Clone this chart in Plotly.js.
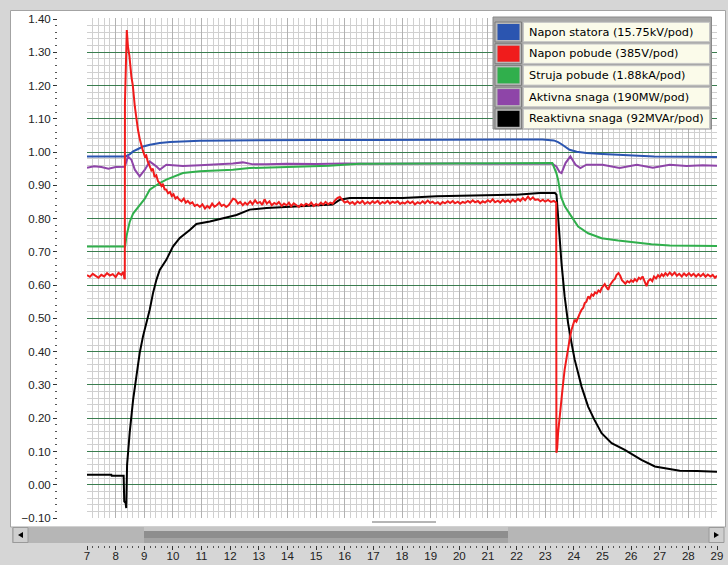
<!DOCTYPE html>
<html>
<head>
<meta charset="utf-8">
<script src="https://cdn.plot.ly/plotly-3.0.1.min.js"></script>
<style>
html,body{margin:0;padding:0;background:#d6d6d6;}
#chart{width:728px;height:565px;}
</style>
</head>
<body>
<div id="chart"></div>
<script>
// ---------------- DATA ----------------
const seriesNames = [
  "Napon statora (15.75kV/pod)",
  "Napon pobude (385V/pod)",
  "Struja pobude (1.88kA/pod)",
  "Aktivna snaga (190MW/pod)",
  "Reaktivna snaga (92MVAr/pod)"
];

// Napon statora (blue)
const tStator = [7, 8.35, 8.5, 8.61, 8.8, 8.96, 9.2, 9.54, 9.9, 10.24, 10.94, 12, 13, 15, 17, 19, 21, 22, 22.9, 23.3, 23.45, 23.6, 23.85, 24.1, 24.44, 25, 25.6, 26.2, 26.8, 28, 29];
const vStator = [0.987, 0.987, 0.994, 1.002, 1.010, 1.017, 1.022, 1.027, 1.030, 1.032, 1.034, 1.035, 1.036, 1.036, 1.036, 1.036, 1.036, 1.037, 1.038, 1.035, 1.030, 1.022, 1.007, 1.001, 0.997, 0.994, 0.992, 0.989, 0.987, 0.986, 0.985];

// Napon pobude (red)
const tPobude = [7.0, 7.1, 7.2, 7.3, 7.4, 7.5, 7.6, 7.7, 7.8, 7.9, 8.0, 8.1, 8.2, 8.27, 8.31,
  8.32, 8.325, 8.39, 8.43, 8.48, 8.55, 8.60, 8.67, 8.72, 8.78, 8.84, 8.90, 8.95, 9.02, 9.07, 9.12, 9.19, 9.25, 9.30, 9.36, 9.42, 9.48, 9.54, 9.60, 9.65, 9.71, 9.77, 9.83, 9.90, 9.96, 10.02, 10.09, 10.15, 10.22, 10.30, 10.38, 10.45, 10.52, 10.60, 10.68, 10.76, 10.85, 10.94,
  11.03, 11.12, 11.20, 11.28, 11.37, 11.45, 11.53, 11.62, 11.70, 11.78, 11.86, 11.95, 12.03, 12.10, 12.18, 12.27, 12.35, 12.44, 12.52, 12.60, 12.70, 12.78, 12.87, 12.95,
  13.04, 13.12, 13.20, 13.28, 13.37, 13.45, 13.54, 13.62, 13.70, 13.80, 13.88, 13.97, 14.05, 14.13, 14.22, 14.30, 14.40, 14.48, 14.57, 14.65, 14.75, 14.83, 14.92,
  15.00, 15.08, 15.17, 15.25, 15.33, 15.42, 15.50, 15.58, 15.66, 15.75, 15.83, 15.92, 16.00, 16.10, 16.18, 16.27, 16.35, 16.45, 16.53, 16.62, 16.70, 16.80, 16.88, 16.97,
  17.05, 17.15, 17.23, 17.32, 17.40, 17.50, 17.58, 17.67, 17.75, 17.85, 17.93, 18.02, 18.10, 18.20, 18.28, 18.37, 18.45, 18.55, 18.63, 18.72, 18.80, 18.90, 18.98,
  19.07, 19.15, 19.25, 19.33, 19.42, 19.50, 19.60, 19.68, 19.77, 19.85, 19.95, 20.03, 20.12, 20.20, 20.30, 20.38, 20.47, 20.55, 20.65, 20.73, 20.82, 20.90,
  21.00, 21.08, 21.17, 21.25, 21.35, 21.43, 21.52, 21.60, 21.70, 21.78, 21.87, 21.95, 22.05, 22.13, 22.22, 22.30, 22.40, 22.48, 22.57, 22.65, 22.75, 22.83, 22.92,
  23.00, 23.10, 23.20, 23.30, 23.385, 23.392, 23.42, 23.45, 23.50, 23.57, 23.62, 23.68, 23.74, 23.80, 23.86, 23.92, 23.97, 24.03, 24.09, 24.15, 24.21, 24.27, 24.33, 24.38, 24.44, 24.50, 24.56, 24.62, 24.68, 24.74, 24.80, 24.86, 24.92, 24.97,
  25.03, 25.08, 25.14, 25.20, 25.26, 25.32, 25.38, 25.43, 25.49, 25.56, 25.62, 25.68, 25.74, 25.80, 25.87, 25.94, 26.00, 26.07, 26.13, 26.20, 26.27, 26.33, 26.40, 26.47, 26.54, 26.60, 26.67, 26.74, 26.80, 26.87, 26.94,
  27.00, 27.07, 27.13, 27.20, 27.27, 27.35, 27.43, 27.52, 27.60, 27.68, 27.77, 27.85, 27.93, 28.02, 28.10, 28.18, 28.27, 28.35, 28.43, 28.52, 28.60, 28.68, 28.77, 28.85, 28.93, 29.0];
const vPobude = [0.630, 0.625, 0.634, 0.628, 0.622, 0.631, 0.626, 0.636, 0.629, 0.633, 0.624, 0.637, 0.631, 0.640, 0.618,
  0.620, 1.150, 1.367, 1.317, 1.290, 1.227, 1.200, 1.137, 1.100, 1.067, 1.040, 1.017, 1.005, 0.987, 0.990, 0.972, 0.957, 0.945, 0.950, 0.925, 0.930, 0.912, 0.907, 0.898, 0.905, 0.888, 0.887, 0.876, 0.880, 0.868, 0.873, 0.860, 0.865, 0.857, 0.852, 0.860, 0.848, 0.853, 0.845, 0.849, 0.838, 0.842, 0.835,
  0.843, 0.830, 0.838, 0.832, 0.845, 0.836, 0.840, 0.848, 0.838, 0.842, 0.835, 0.841, 0.852, 0.860, 0.857, 0.845, 0.850, 0.840, 0.848, 0.842, 0.852, 0.843, 0.855, 0.846,
  0.850, 0.841, 0.858, 0.845, 0.852, 0.840, 0.847, 0.843, 0.850, 0.838, 0.845, 0.840, 0.848, 0.837, 0.846, 0.840, 0.835, 0.843, 0.838, 0.845, 0.840, 0.848, 0.838,
  0.844, 0.840, 0.848, 0.842, 0.850, 0.843, 0.848, 0.845, 0.855, 0.862, 0.865, 0.855, 0.848, 0.852, 0.845, 0.850, 0.843, 0.851, 0.846, 0.853, 0.844, 0.850, 0.845, 0.852,
  0.847, 0.853, 0.844, 0.850, 0.846, 0.853, 0.845, 0.851, 0.847, 0.852, 0.844, 0.849, 0.845, 0.852, 0.846, 0.851, 0.843, 0.849, 0.845, 0.852, 0.846, 0.854, 0.847,
  0.851, 0.845, 0.849, 0.843, 0.850, 0.846, 0.852, 0.847, 0.853, 0.846, 0.851, 0.845, 0.850, 0.847, 0.853, 0.848, 0.855, 0.849, 0.853, 0.846, 0.852, 0.848,
  0.855, 0.850, 0.858, 0.849, 0.854, 0.848, 0.856, 0.850, 0.855, 0.849, 0.857, 0.851, 0.859, 0.853, 0.862, 0.855, 0.866, 0.857, 0.864, 0.856, 0.858, 0.852, 0.857,
  0.851, 0.856, 0.850, 0.853, 0.848, 0.096, 0.110, 0.155, 0.205, 0.265, 0.300, 0.346, 0.380, 0.416, 0.440, 0.466, 0.478, 0.496, 0.490, 0.506, 0.515, 0.526, 0.532, 0.546, 0.550, 0.566, 0.560, 0.572, 0.568, 0.578, 0.575, 0.584, 0.580, 0.591,
  0.596, 0.603, 0.594, 0.586, 0.600, 0.608, 0.615, 0.618, 0.630, 0.636, 0.628, 0.615, 0.610, 0.604, 0.612, 0.608, 0.615, 0.610, 0.618, 0.612, 0.622, 0.618, 0.626, 0.610, 0.597, 0.612, 0.618, 0.612, 0.626, 0.620, 0.630,
  0.624, 0.633, 0.627, 0.636, 0.629, 0.638, 0.630, 0.638, 0.628, 0.634, 0.626, 0.635, 0.628, 0.636, 0.628, 0.634, 0.626, 0.633, 0.627, 0.634, 0.625, 0.632, 0.626, 0.631, 0.622, 0.628];

// Struja pobude (green)
const tStruja = [7, 8.33, 8.376, 8.49, 8.61, 8.84, 9.02, 9.19, 9.54, 9.77, 10.35, 10.94, 12.09, 12.68, 13.7, 15.45, 16.5, 17.2, 20, 23.25, 23.39, 23.45, 23.55, 23.69, 23.92, 24.15, 24.5, 24.97, 25.55, 26.13, 26.71, 27.35, 28.2, 29];
const vStruja = [0.716, 0.716, 0.746, 0.790, 0.815, 0.840, 0.860, 0.887, 0.907, 0.917, 0.937, 0.942, 0.947, 0.952, 0.955, 0.959, 0.965, 0.965, 0.966, 0.967, 0.937, 0.917, 0.866, 0.836, 0.806, 0.776, 0.756, 0.741, 0.734, 0.728, 0.723, 0.719, 0.718, 0.718];

// Aktivna snaga (purple)
const tAktivna = [7, 7.25, 7.5, 7.75, 8.0, 8.2, 8.32, 8.43, 8.55, 8.67, 8.84, 9.02, 9.19, 9.42, 9.54, 9.77, 10.35, 10.94, 11.5, 12.09, 12.44, 12.8, 13.27, 14.0, 15.0, 16.0, 17.0, 18.0, 19.0, 20.0, 21.0, 22.0, 23.0, 23.25,
  23.39, 23.5, 23.57, 23.71, 23.88, 24.06, 24.23, 24.44, 25.0, 25.6, 26.2, 26.76, 27.35, 27.94, 28.5, 29];
const vAktivna = [0.953, 0.957, 0.955, 0.950, 0.955, 0.957, 0.956, 0.987, 0.977, 0.947, 0.927, 0.947, 0.972, 0.957, 0.947, 0.962, 0.958, 0.960, 0.962, 0.966, 0.969, 0.963, 0.963, 0.965, 0.964, 0.966, 0.965, 0.966, 0.965, 0.966, 0.965, 0.966, 0.966, 0.965,
  0.957, 0.940, 0.937, 0.967, 0.987, 0.962, 0.952, 0.962, 0.962, 0.952, 0.962, 0.953, 0.962, 0.958, 0.960, 0.959];

// Reaktivna snaga (black)
const tReaktivna = [7, 7.85, 7.86, 8.28, 8.30, 8.35, 8.37, 8.40, 8.49, 8.61, 8.725, 8.84, 8.956, 9.075, 9.19, 9.305, 9.424, 9.54, 9.77, 10.0, 10.24, 10.59, 10.82, 11.29, 11.74, 11.98, 12.22, 12.68, 13.27, 14.43, 15.58, 15.83, 16.18, 17.22, 18.03, 19.2, 20.95, 22.0, 22.81, 23.34,
  23.395, 23.45, 23.57, 23.68, 23.8, 23.92, 24.03, 24.15, 24.27, 24.5, 24.72, 24.97, 25.32, 25.78, 26.36, 26.83, 27.7, 28.3, 29];
const vReaktivna = [0.030, 0.030, 0.027, 0.027, -0.050, -0.055, -0.070, 0.060, 0.156, 0.255, 0.326, 0.396, 0.446, 0.487, 0.526, 0.576, 0.616, 0.646, 0.676, 0.716, 0.742, 0.766, 0.784, 0.791, 0.800, 0.805, 0.811, 0.827, 0.832, 0.837, 0.842, 0.857, 0.862, 0.862, 0.862, 0.867, 0.869, 0.872, 0.877, 0.877,
  0.872, 0.797, 0.666, 0.566, 0.486, 0.426, 0.376, 0.336, 0.295, 0.235, 0.195, 0.155, 0.125, 0.105, 0.075, 0.055, 0.042, 0.041, 0.039];

// ---------------- STYLE / LAYOUT ----------------
const colors = ["#2b55b0", "#f01c1c", "#30af4c", "#8e45a8", "#000000"];
const W = 728, H = 565, ML = 57, MR = 11, MT = 18, MB = 20;
const PW = W - ML - MR, PH = H - MT - MB;
const px = v => (v - ML) / PW;
const py = v => (H - MB - v) / PH;

const series = [
  {t: tStator, v: vStator, c: 0},
  {t: tAktivna, v: vAktivna, c: 3},
  {t: tStruja, v: vStruja, c: 2},
  {t: tReaktivna, v: vReaktivna, c: 4},
  {t: tPobude, v: vPobude, c: 1}
];
const traces = series.map(s => ({
  type: "scatter", mode: "lines", x: s.t, y: s.v,
  line: {color: colors[s.c], width: 2}, hoverinfo: "skip", showlegend: false
}));

const shapes = [];
const annotations = [];
// white panel
shapes.push({type: "rect", xref: "paper", yref: "paper", layer: "below",
  x0: px(10.5), x1: px(725.5), y0: py(527), y1: py(10.5),
  fillcolor: "#ffffff", line: {color: "#a3a3a3", width: 1}});
// scrollbar track
shapes.push({type: "rect", xref: "paper", yref: "paper", layer: "above",
  x0: px(12), x1: px(724), y0: py(543), y1: py(527),
  fillcolor: "#b6b6b6", line: {width: 0}});
// thumb (three bands)
shapes.push({type: "rect", xref: "paper", yref: "paper", layer: "above",
  x0: px(144), x1: px(508), y0: py(531), y1: py(527), fillcolor: "#c6c6c6", line: {width: 0}});
shapes.push({type: "rect", xref: "paper", yref: "paper", layer: "above",
  x0: px(144), x1: px(508), y0: py(538), y1: py(531), fillcolor: "#8e8e8e", line: {width: 0}});
shapes.push({type: "rect", xref: "paper", yref: "paper", layer: "above",
  x0: px(144), x1: px(508), y0: py(543), y1: py(538), fillcolor: "#a4a4a4", line: {width: 0}});
// buttons
[[13, 28], [709, 724]].forEach(b => shapes.push({type: "rect", xref: "paper", yref: "paper", layer: "above",
  x0: px(b[0]), x1: px(b[1]), y0: py(542.5), y1: py(527.5), fillcolor: "#cfcfcf", line: {color: "#9a9a9a", width: 1}}));
shapes.push({type: "path", xref: "paper", yref: "paper", layer: "above",
  path: `M ${px(18)} ${py(535)} L ${px(23)} ${py(532)} L ${px(23)} ${py(538)} Z`, fillcolor: "#000", line: {width: 0}});
shapes.push({type: "path", xref: "paper", yref: "paper", layer: "above",
  path: `M ${px(719)} ${py(535)} L ${px(714)} ${py(532)} L ${px(714)} ${py(538)} Z`, fillcolor: "#000", line: {width: 0}});
// little grip line above the scrollbar
shapes.push({type: "line", xref: "paper", yref: "paper", layer: "above",
  x0: px(372), x1: px(436), y0: py(522), y1: py(522), line: {color: "#9c9c9c", width: 1.5}});

// legend panel
shapes.push({type: "rect", xref: "paper", yref: "paper", layer: "above",
  x0: px(493), x1: px(711.5), y0: py(129), y1: py(17), fillcolor: "#a8a8a8", line: {color: "#8a8a8a", width: 1}});
seriesNames.forEach((name, i) => {
  const cy = 32 + i * 21.7;
  shapes.push({type: "rect", xref: "paper", yref: "paper", layer: "above",
    x0: px(495), x1: px(521.5), y0: py(cy + 10), y1: py(cy - 10), fillcolor: "#b9b9b9", line: {color: "#7d7d7d", width: 1}});
  shapes.push({type: "rect", xref: "paper", yref: "paper", layer: "above",
    x0: px(497.5), x1: px(519.5), y0: py(cy + 8), y1: py(cy - 8), fillcolor: colors[i], line: {width: 0}});
  shapes.push({type: "rect", xref: "paper", yref: "paper", layer: "above",
    x0: px(523.5), x1: px(709.5), y0: py(cy + 9.7), y1: py(cy - 9.7), fillcolor: "#fbfbea", line: {color: "#c4c4c4", width: 1}});
  annotations.push({xref: "paper", yref: "paper", x: px(527), y: py(cy), xanchor: "left", yanchor: "middle",
    text: name, showarrow: false, font: {family: "DejaVu Sans", size: 11.3, color: "#000"}});
});

const layout = {
  width: W, height: H,
  margin: {l: ML, r: MR, t: MT, b: MB, pad: 0},
  paper_bgcolor: "#d6d6d6", plot_bgcolor: "#ffffff",
  showlegend: false,
  font: {family: "Liberation Sans", size: 11.5, color: "#222"},
  xaxis: {
    domain: [px(87), 1], anchor: "free", position: 0,
    range: [7, 29], dtick: 1, tick0: 7, showline: false, zeroline: false,
    ticks: "outside", ticklen: 4, tickcolor: "#333", tickwidth: 1,
    ticklabelstandoff: -4,
    showgrid: true, gridcolor: "#b2b2b2", gridwidth: 1,
    minor: {dtick: 0.2, ticks: "outside", ticklen: 2, tickcolor: "#555", showgrid: true, gridcolor: "#d0d0d0", gridwidth: 1},
    tickfont: {family: "Liberation Sans", size: 11.5, color: "#222"}
  },
  yaxis: {
    domain: [py(518), 1], anchor: "free", position: 0,
    range: [-0.1, 1.403], dtick: 0.1, tick0: 0, tickformat: ".2f",
    showline: false, zeroline: false,
    ticks: "outside", ticklen: 4, tickcolor: "#333", tickwidth: 1,
    showgrid: true, gridcolor: "#3a7d4f", gridwidth: 1,
    minor: {dtick: 0.02, ticks: "outside", ticklen: 2, tickcolor: "#555", showgrid: true, gridcolor: "#d0d0d0", gridwidth: 1},
    tickfont: {family: "Liberation Sans", size: 11.5, color: "#222"}
  },
  shapes: shapes,
  annotations: annotations
};

Plotly.newPlot("chart", traces, layout, {staticPlot: true, displayModeBar: false});
</script>
</body>
</html>
